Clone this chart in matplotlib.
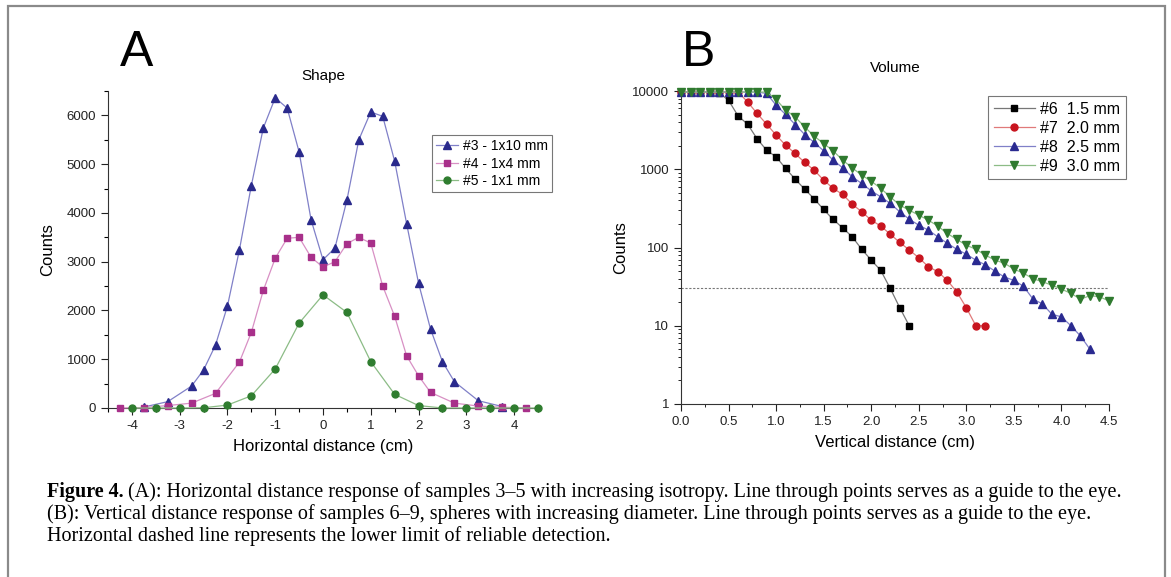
import numpy as np
import matplotlib
matplotlib.use("Agg")
import matplotlib.pyplot as plt
from matplotlib.ticker import MultipleLocator, FuncFormatter, LogLocator, NullFormatter
from matplotlib.patches import Rectangle

plt.rcParams['font.family'] = ['Liberation Sans', 'DejaVu Sans']
plt.rcParams['axes.unicode_minus'] = False

# ---- panel A: shape ----
x3 = [-3.75, -3.25, -2.75, -2.5, -2.25, -2.0, -1.75, -1.5, -1.25, -1.0, -0.75, -0.5, -0.25, 0.0,
      0.25, 0.5, 0.75, 1.0, 1.25, 1.5, 1.75, 2.0, 2.25, 2.5, 2.75, 3.25, 3.75]
y3 = [20, 130, 450, 780, 1290, 2090, 3240, 4560, 5740, 6360, 6150, 5250, 3860, 3040,
      3280, 4260, 5500, 6070, 5980, 5060, 3780, 2560, 1620, 950, 540, 150, 30]

x4 = [-4.25, -3.75, -3.25, -2.75, -2.25, -1.75, -1.5, -1.25, -1.0, -0.75, -0.5, -0.25, 0.0,
      0.25, 0.5, 0.75, 1.0, 1.25, 1.5, 1.75, 2.0, 2.25, 2.75, 3.25, 3.75, 4.25]
y4 = [0, 10, 50, 100, 300, 940, 1550, 2410, 3070, 3480, 3500, 3090, 2890,
      3000, 3370, 3500, 3380, 2500, 1880, 1070, 660, 320, 100, 40, 15, 5]

x5 = [-4.0, -3.5, -3.0, -2.5, -2.0, -1.5, -1.0, -0.5, 0.0, 0.5, 1.0, 1.5, 2.0, 2.5, 3.0, 3.5, 4.0, 4.5]
y5 = [0, 0, 0, 5, 60, 250, 800, 1740, 2320, 1960, 950, 280, 50, 0, 0, 0, 0, 0]

# ---- panel B: volume ----
x6 = [0.0, 0.1, 0.2, 0.3, 0.4, 0.5, 0.6, 0.7, 0.8, 0.9, 1.0, 1.1, 1.2, 1.3, 1.4, 1.5, 1.6, 1.7,
      1.8, 1.9, 2.0, 2.1, 2.2, 2.3, 2.4]
y6 = [9700, 9700, 9700, 9700, 9500, 7600, 4800, 3770, 2450, 1750, 1440, 1025, 748, 557, 419,
      306, 228, 178, 137, 95, 69, 51, 30, 17, 10]

x7 = [0.0, 0.1, 0.2, 0.3, 0.4, 0.5, 0.6, 0.7, 0.8, 0.9, 1.0, 1.1, 1.2, 1.3, 1.4, 1.5, 1.6, 1.7,
      1.8, 1.9, 2.0, 2.1, 2.2, 2.3, 2.4, 2.5, 2.6, 2.7, 2.8, 2.9, 3.0, 3.1, 3.2]
y7 = [9700, 9700, 9700, 9700, 9700, 9700, 9700, 7260, 5160, 3770, 2730, 2030, 1590, 1220,
      975, 726, 569, 477, 358, 286, 224, 188, 148, 116, 93, 74, 57, 49, 38, 27, 17, 10, 10]

x8 = [0.0, 0.1, 0.2, 0.3, 0.4, 0.5, 0.6, 0.7, 0.8, 0.9, 1.0, 1.1, 1.2, 1.3, 1.4, 1.5, 1.6, 1.7,
      1.8, 1.9, 2.0, 2.1, 2.2, 2.3, 2.4, 2.5, 2.6, 2.7, 2.8, 2.9, 3.0, 3.1, 3.2, 3.3, 3.4, 3.5,
      3.6, 3.7, 3.8, 3.9, 4.0, 4.1, 4.2, 4.3]
y8 = [9700, 9700, 9700, 9700, 9700, 9700, 9700, 9700, 9700, 9300, 6590, 5010, 3730, 2780,
      2200, 1720, 1306, 1042, 800, 658, 530, 444, 366, 286, 230, 193, 167, 137, 113, 95, 82, 69,
      60, 50, 42, 38, 32, 22, 19, 14, 13, 10, 7.4, 5.0]

x9 = [0.0, 0.1, 0.2, 0.3, 0.4, 0.5, 0.6, 0.7, 0.8, 0.9, 1.0, 1.1, 1.2, 1.3, 1.4, 1.5, 1.6, 1.7,
      1.8, 1.9, 2.0, 2.1, 2.2, 2.3, 2.4, 2.5, 2.6, 2.7, 2.8, 2.9, 3.0, 3.1, 3.2, 3.3, 3.4, 3.5,
      3.6, 3.7, 3.8, 3.9, 4.0, 4.1, 4.2, 4.3, 4.4, 4.5]
y9 = [9700, 9700, 9700, 9700, 9700, 9700, 9700, 9700, 9700, 9700, 7800, 5690, 4670, 3480,
      2650, 2130, 1720, 1306, 1042, 841, 705, 569, 444, 348, 300, 259, 224, 188, 151, 127, 107,
      95, 80, 69, 63, 53, 47, 40, 36.5, 33, 29.4, 25.9, 21.9, 24.2, 23.5, 20.7]

detect_limit = 30

fig = plt.figure(figsize=(11.71, 5.77), dpi=100)

# outer frame
fig.patches.append(Rectangle((8 / 1171, -0.01), 1157 / 1171, 1 - 6 / 577 + 0.01,
                             transform=fig.transFigure, fill=False, edgecolor='#8a8a8a', lw=1.6))

tick_kw = dict(labelsize=9.5, colors='#222222')

# ---- A ----
axA = fig.add_axes([108 / 1171, 1 - 408 / 577, 430 / 1171, 317 / 577])
axA.plot(x3, y3, '-', color='#8080c8', lw=0.9, marker='^', ms=5.5, mfc='#2a2a8c', mec='#2a2a8c',
         label='#3 - 1x10 mm', clip_on=False, zorder=3)
axA.plot(x4, y4, '-', color='#d890c4', lw=0.9, marker='s', ms=4.5, mfc='#a8308a', mec='#a8308a',
         label='#4 - 1x4 mm', clip_on=False, zorder=3)
axA.plot(x5, y5, '-', color='#8cbc86', lw=0.9, marker='o', ms=5, mfc='#2f7d2f', mec='#2f7d2f',
         label='#5 - 1x1 mm', clip_on=False, zorder=3)
axA.set_xlim(-4.5, 4.5)
axA.set_ylim(0, 6500)
axA.xaxis.set_major_locator(MultipleLocator(1))
axA.xaxis.set_minor_locator(MultipleLocator(0.5))
axA.yaxis.set_major_locator(MultipleLocator(1000))
axA.yaxis.set_minor_locator(MultipleLocator(500))
axA.tick_params(which='major', direction='out', length=5, width=0.8, **tick_kw)
axA.tick_params(which='minor', direction='out', length=3, width=0.8)
for s in ['top', 'right']:
    axA.spines[s].set_visible(False)
for s in ['left', 'bottom']:
    axA.spines[s].set_color('#333333')
axA.set_title('Shape', fontsize=11, pad=8)
axA.set_xlabel('Horizontal distance (cm)', fontsize=12, labelpad=5)
axA.set_ylabel('Counts', fontsize=12, labelpad=8)
legA = axA.legend(loc='upper left', bbox_to_anchor=(432 / 1171, 1 - 135 / 577), bbox_transform=fig.transFigure,
                  fontsize=10, frameon=True, fancybox=False, edgecolor='#555555', handlelength=1.6,
                  borderpad=0.3, labelspacing=0.25, handletextpad=0.3, borderaxespad=0)
legA.get_frame().set_linewidth(0.8)
fig.text(137 / 1171, 1 - 53 / 577, 'A', fontsize=36, ha='center', va='center')

# ---- B ----
axB = fig.add_axes([681 / 1171, 1 - 404 / 577, 428 / 1171, 313 / 577])
axB.plot(x6, y6, '-', color='#777777', lw=0.9, marker='s', ms=4.5, mfc='black', mec='black',
         label='#6  1.5 mm', clip_on=False, zorder=3)
axB.plot(x7, y7, '-', color='#e07a7a', lw=0.9, marker='o', ms=5, mfc='#c8141e', mec='#c8141e',
         label='#7  2.0 mm', clip_on=False, zorder=3)
axB.plot(x8, y8, '-', color='#8080c8', lw=0.9, marker='^', ms=5.5, mfc='#2a2a90', mec='#2a2a90',
         label='#8  2.5 mm', clip_on=False, zorder=3)
axB.plot(x9, y9, '-', color='#8cbc86', lw=0.9, marker='v', ms=5.5, mfc='#2f7a2f', mec='#2f7a2f',
         label='#9  3.0 mm', clip_on=False, zorder=3)
axB.axhline(detect_limit, color='#777777', lw=0.8, ls=(0, (2, 1.5)), zorder=1)
axB.set_yscale('log')
axB.set_xlim(0, 4.5)
axB.set_ylim(1, 10000)
axB.xaxis.set_major_locator(MultipleLocator(0.5))
axB.xaxis.set_minor_locator(MultipleLocator(0.25))
axB.xaxis.set_major_formatter(FuncFormatter(lambda v, p: '%.1f' % v))
axB.yaxis.set_major_locator(LogLocator(base=10, numticks=10))
axB.yaxis.set_minor_locator(LogLocator(base=10, subs=np.arange(2, 10), numticks=10))
axB.yaxis.set_major_formatter(FuncFormatter(lambda v, p: '%d' % round(v)))
axB.yaxis.set_minor_formatter(NullFormatter())
axB.tick_params(which='major', direction='out', length=5, width=0.8, **tick_kw)
axB.tick_params(which='minor', direction='out', length=2.5, width=0.6)
for s in ['top', 'right']:
    axB.spines[s].set_visible(False)
for s in ['left', 'bottom']:
    axB.spines[s].set_color('#333333')
axB.set_title('Volume', fontsize=11, pad=14)
axB.set_xlabel('Vertical distance (cm)', fontsize=12, labelpad=5)
axB.set_ylabel('Counts', fontsize=12, labelpad=3)
legB = axB.legend(loc='upper left', bbox_to_anchor=(988 / 1171, 1 - 96 / 577), bbox_transform=fig.transFigure,
                  fontsize=11.5, frameon=True, fancybox=False, edgecolor='#555555', handlelength=2.6,
                  borderpad=0.35, labelspacing=0.25, handletextpad=0.3, borderaxespad=0)
legB.get_frame().set_linewidth(0.8)
fig.text(699 / 1171, 1 - 53 / 577, 'B', fontsize=36, ha='center', va='center')

# ---- caption ----
cap_font = ['Liberation Serif', 'DejaVu Serif']
cap_size = 14.5
cap_lines = [
    '(A): Horizontal distance response of samples 3\u20135 with increasing isotropy. Line through points serves as a guide to the eye.',
    '(B): Vertical distance response of samples 6\u20139, spheres with increasing diameter. Line through points serves as a guide to the eye.',
    'Horizontal dashed line represents the lower limit of reliable detection.',
]
t0 = fig.text(47 / 1171, 1 - 492 / 577, 'Figure 4.', fontsize=cap_size, family=cap_font, weight='bold', va='center')
fig.canvas.draw()
bb = t0.get_window_extent()
fig.text(bb.x1 / fig.bbox.width + 4 / 1171, 1 - 492 / 577, cap_lines[0], fontsize=cap_size, family=cap_font, va='center')
fig.text(47 / 1171, 1 - 514 / 577, cap_lines[1], fontsize=cap_size, family=cap_font, va='center')
fig.text(47 / 1171, 1 - 536 / 577, cap_lines[2], fontsize=cap_size, family=cap_font, va='center')

fig.savefig('out.png', dpi=100)
